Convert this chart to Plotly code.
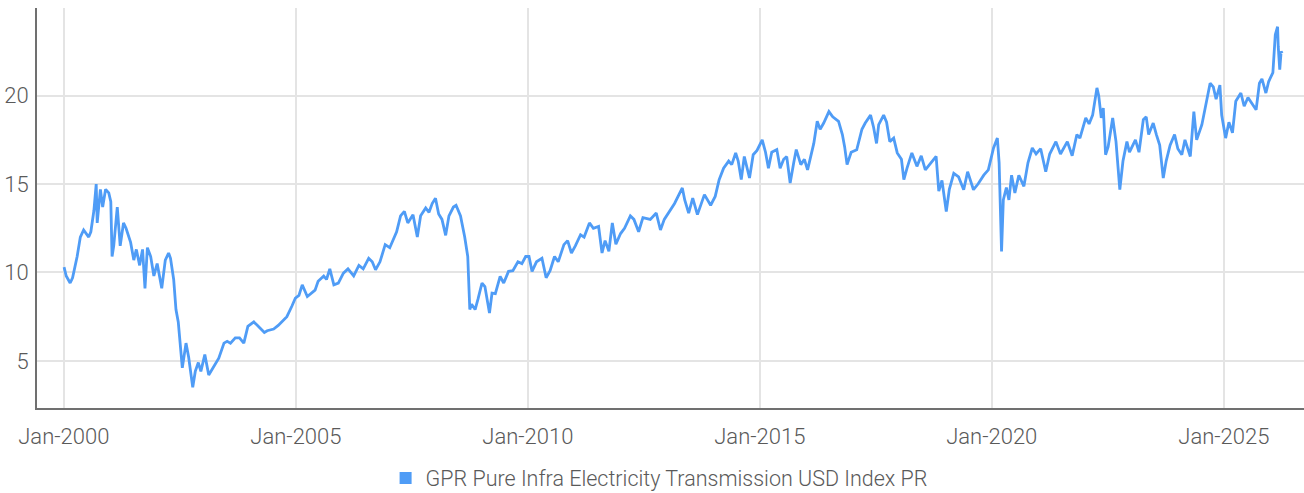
import plotly.graph_objects as go

# Index level readings
dates = [
    "2000-01-03", "2000-01-20", "2000-02-20", "2000-03-10", "2000-04-15", "2000-05-10", "2000-06-05",
    "2000-07-15", "2000-08-01", "2000-08-25", "2000-09-12", "2000-09-20", "2000-10-15", "2000-11-02",
    "2000-11-25", "2000-12-20", "2001-01-05", "2001-01-15", "2001-01-28", "2001-02-25", "2001-03-20",
    "2001-04-15", "2001-05-05", "2001-06-10", "2001-07-05", "2001-07-25", "2001-08-20", "2001-09-12",
    "2001-10-01", "2001-10-20", "2001-11-15", "2001-12-10", "2002-01-05", "2002-02-10", "2002-03-10",
    "2002-04-05", "2002-04-20", "2002-05-15", "2002-06-02", "2002-06-20", "2002-07-22", "2002-08-20",
    "2002-09-10", "2002-10-12", "2002-11-01", "2002-11-25", "2002-12-15", "2003-01-15", "2003-02-15",
    "2003-03-20", "2003-05-05", "2003-06-15", "2003-07-10", "2003-08-05", "2003-09-12", "2003-10-15",
    "2003-11-18", "2003-12-20", "2004-02-05", "2004-03-05", "2004-04-28", "2004-05-20", "2004-07-10",
    "2004-08-15", "2004-10-22", "2004-12-01", "2004-12-28", "2005-01-25", "2005-02-20", "2005-04-01",
    "2005-04-28", "2005-06-01", "2005-06-25", "2005-08-08", "2005-08-30", "2005-09-25", "2005-10-27",
    "2005-12-01", "2006-01-10", "2006-02-15", "2006-04-01", "2006-05-12", "2006-06-15", "2006-07-28",
    "2006-08-25", "2006-09-20", "2006-10-25", "2006-12-05", "2007-01-10", "2007-02-10", "2007-03-05",
    "2007-04-05", "2007-05-05", "2007-06-01", "2007-07-12", "2007-08-15", "2007-09-10", "2007-10-20",
    "2007-11-15", "2007-12-10", "2008-01-05", "2008-01-30", "2008-02-25", "2008-03-25", "2008-04-20",
    "2008-05-25", "2008-06-15", "2008-07-20", "2008-08-22", "2008-09-15", "2008-10-01", "2008-10-15",
    "2008-11-12", "2008-12-05", "2009-01-05", "2009-01-28", "2009-03-05", "2009-03-25", "2009-04-20",
    "2009-05-28", "2009-06-25", "2009-08-02", "2009-09-05", "2009-10-15", "2009-11-15", "2009-12-15",
    "2010-01-10", "2010-02-03", "2010-03-10", "2010-04-22", "2010-05-25", "2010-06-25", "2010-07-30",
    "2010-08-28", "2010-10-12", "2010-11-10", "2010-12-10", "2011-01-10", "2011-02-20", "2011-03-20",
    "2011-05-01", "2011-06-01", "2011-07-12", "2011-08-08", "2011-09-01", "2011-10-01", "2011-10-28",
    "2011-11-25", "2012-01-01", "2012-02-01", "2012-03-18", "2012-04-15", "2012-05-22", "2012-06-25",
    "2012-08-22", "2012-10-08", "2012-11-10", "2012-12-10", "2013-01-30", "2013-03-01", "2013-05-01",
    "2013-05-20", "2013-06-20", "2013-07-22", "2013-08-28", "2013-09-25", "2013-10-22", "2013-12-10",
    "2014-01-15", "2014-02-15", "2014-03-22", "2014-05-01", "2014-05-25", "2014-06-25", "2014-07-15",
    "2014-08-08", "2014-09-01", "2014-10-12", "2014-11-10", "2014-12-10", "2015-01-20", "2015-02-15",
    "2015-03-10", "2015-04-05", "2015-05-15", "2015-06-10", "2015-07-08", "2015-08-01", "2015-08-28",
    "2015-09-25", "2015-10-15", "2015-11-20", "2015-12-18", "2016-01-12", "2016-02-05", "2016-03-01",
    "2016-03-28", "2016-04-20", "2016-05-18", "2016-06-28", "2016-07-28", "2016-09-12", "2016-10-12",
    "2016-10-30", "2016-11-18", "2016-12-20", "2017-02-02", "2017-03-15", "2017-04-10", "2017-05-22",
    "2017-06-15", "2017-07-08", "2017-07-25", "2017-09-02", "2017-09-25", "2017-10-20", "2017-11-20",
    "2017-12-18", "2018-01-20", "2018-02-08", "2018-03-05", "2018-04-12", "2018-05-22", "2018-06-25",
    "2018-07-27", "2018-09-10", "2018-10-20", "2018-11-10", "2018-12-05", "2019-01-08", "2019-02-01",
    "2019-03-08", "2019-04-15", "2019-05-25", "2019-06-25", "2019-08-10", "2019-09-15", "2019-10-30",
    "2019-12-05", "2020-01-15", "2020-02-14", "2020-02-28", "2020-03-12", "2020-03-18", "2020-04-01",
    "2020-04-25", "2020-05-15", "2020-06-05", "2020-07-01", "2020-08-01", "2020-09-10", "2020-10-12",
    "2020-11-15", "2020-12-15", "2021-01-20", "2021-03-01", "2021-04-01", "2021-05-20", "2021-06-25",
    "2021-08-18", "2021-09-25", "2021-11-01", "2021-11-25", "2022-01-10", "2022-02-05", "2022-03-05",
    "2022-04-08", "2022-04-22", "2022-05-12", "2022-05-28", "2022-06-15", "2022-07-05", "2022-08-10",
    "2022-09-05", "2022-10-05", "2022-10-30", "2022-11-30", "2022-12-20", "2023-02-05", "2023-03-05",
    "2023-04-08", "2023-05-01", "2023-05-20", "2023-06-25", "2023-07-20", "2023-08-15", "2023-09-12",
    "2023-10-05", "2023-11-05", "2023-12-10", "2024-01-05", "2024-02-05", "2024-03-01", "2024-04-12",
    "2024-05-10", "2024-06-01", "2024-07-12", "2024-08-10", "2024-09-15", "2024-10-10", "2024-11-01",
    "2024-12-01", "2024-12-15", "2025-01-15", "2025-02-10", "2025-03-10", "2025-04-05", "2025-05-15",
    "2025-06-10", "2025-07-10", "2025-08-05", "2025-09-12", "2025-10-08", "2025-10-28", "2025-11-28",
    "2025-12-20", "2026-01-22", "2026-02-10", "2026-02-28", "2026-03-05", "2026-03-17", "2026-03-28",
    "2026-04-05",
]

values = [
    10.3, 9.8, 9.4, 9.7, 10.9, 12.0, 12.4,
    12.0, 12.3, 13.5, 15.0, 12.8, 14.7, 13.7,
    14.7, 14.5, 14.0, 10.9, 11.5, 13.7, 11.5,
    12.8, 12.5, 11.7, 10.7, 11.3, 10.4, 11.3,
    9.1, 11.4, 10.9, 9.8, 10.5, 9.1, 10.7,
    11.1, 10.8, 9.6, 7.9, 7.2, 4.6, 6.0,
    5.2, 3.5, 4.4, 4.9, 4.4, 5.35, 4.2,
    4.6, 5.15, 6.0, 6.1, 6.0, 6.3, 6.3,
    6.0, 6.95, 7.2, 7.0, 6.6, 6.7, 6.8,
    7.0, 7.5, 8.1, 8.55, 8.7, 9.3, 8.64,
    8.8, 9.0, 9.5, 9.8, 9.6, 10.2, 9.3,
    9.4, 9.96, 10.2, 9.8, 10.4, 10.2, 10.8,
    10.6, 10.15, 10.6, 11.57, 11.4, 11.95, 12.3,
    13.2, 13.45, 12.8, 13.26, 12.0, 13.2, 13.65,
    13.4, 13.9, 14.2, 13.3, 13.0, 12.1, 13.2,
    13.7, 13.8, 13.2, 12.0, 10.9, 7.9, 8.2,
    7.9, 8.5, 9.4, 9.2, 7.7, 8.83, 8.8,
    9.77, 9.4, 10.06, 10.1, 10.6, 10.5, 10.9,
    10.9, 10.06, 10.6, 10.8, 9.7, 10.1, 10.9,
    10.6, 11.57, 11.8, 11.1, 11.5, 12.13, 12.0,
    12.8, 12.5, 12.6, 11.1, 11.8, 11.2, 12.8,
    11.6, 12.2, 12.5, 13.2, 13.0, 12.3, 13.1,
    13.0, 13.36, 12.4, 13.0, 13.6, 13.9, 14.78,
    14.1, 13.36, 14.2, 13.27, 13.9, 14.4, 13.8,
    14.3, 15.25, 15.9, 16.3, 16.1, 16.76, 16.3,
    15.25, 16.56, 15.34, 16.66, 16.9, 17.5, 16.8,
    15.9, 16.8, 16.95, 15.9, 16.4, 16.55, 15.06,
    16.2, 16.95, 16.1, 16.4, 15.8, 16.5, 17.3,
    18.55, 18.1, 18.45, 19.1, 18.8, 18.55, 17.8,
    17.1, 16.1, 16.8, 16.94, 18.1, 18.45, 18.9,
    18.2, 17.3, 18.36, 18.9, 18.5, 17.4, 17.6,
    16.76, 16.4, 15.25, 15.9, 16.76, 16.0, 16.6,
    15.8, 16.2, 16.56, 14.6, 15.2, 13.45, 14.7,
    15.6, 15.4, 14.68, 15.7, 14.68, 15.0, 15.5,
    15.8, 17.04, 17.6, 16.2, 12.8, 11.19, 14.1,
    14.8, 14.1, 15.5, 14.5, 15.5, 14.87, 16.2,
    17.04, 16.7, 17.0, 15.7, 16.7, 17.4, 16.7,
    17.4, 16.6, 17.8, 17.6, 18.74, 18.4, 18.9,
    20.44, 20.0, 18.74, 19.3, 16.66, 17.1, 18.74,
    17.4, 14.68, 16.3, 17.4, 16.8, 17.5, 16.8,
    18.64, 18.8, 17.8, 18.45, 17.8, 17.2, 15.34,
    16.3, 17.2, 17.8, 17.0, 16.66, 17.5, 16.56,
    19.1, 17.5, 18.36, 19.5, 20.7, 20.5, 19.8,
    20.6, 18.9, 17.6, 18.5, 17.9, 19.68, 20.15,
    19.4, 19.9, 19.6, 19.2, 20.7, 20.95, 20.15,
    20.8, 21.3, 23.45, 23.9, 22.8, 21.47, 22.5,
    22.4,
]

series_name = "GPR Pure Infra Electricity Transmission USD Index PR"
y_ticks = [5, 10, 15, 20]

LINE_COLOR = "#4f9cf6"
TEXT_COLOR = "#5a5a5a"
FONT = "Roboto, sans-serif"

fig = go.Figure()
fig.add_trace(go.Scatter(
    x=dates, y=values, mode="lines",
    line=dict(color=LINE_COLOR, width=2.8),
    name=series_name, showlegend=False,
))
# legend entry with square swatch
fig.add_trace(go.Scatter(
    x=[None], y=[None], mode="markers",
    marker=dict(symbol="square", color=LINE_COLOR, size=11),
    name=series_name, showlegend=True,
))

fig.update_layout(
    width=1304, height=493,
    margin=dict(l=37, r=0, t=8, b=85, autoexpand=False),
    paper_bgcolor="white", plot_bgcolor="white",
    font=dict(family=FONT, size=22, color=TEXT_COLOR, weight=300),
    legend=dict(orientation="h", x=0.491, xanchor="center", y=-0.175, yanchor="middle",
                font=dict(size=21.5, color=TEXT_COLOR, weight=300), itemsizing="constant",
                itemwidth=30),
    xaxis=dict(
        type="date",
        range=["1999-06-04", "2026-09-24"],
        tick0="2000-01-01", dtick="M60", tickformat="%b-%Y",
        showgrid=True, gridcolor="#e4e4e4", gridwidth=2,
        showline=True, linecolor="#707070", linewidth=2,
        ticks="", zeroline=False, ticklabelstandoff=8, automargin=False,
    ),
    yaxis=dict(
        range=[2.33, 24.96],
        tickvals=y_ticks,
        showgrid=True, gridcolor="#e4e4e4", gridwidth=2,
        showline=True, linecolor="#707070", linewidth=2,
        ticks="", zeroline=False, ticklabelstandoff=2, automargin=False,
    ),
)

fig.write_html(
    "out.html",
    config={"displayModeBar": False},
    post_script="document.body.style.margin='0';document.body.style.overflow='hidden';",
)
